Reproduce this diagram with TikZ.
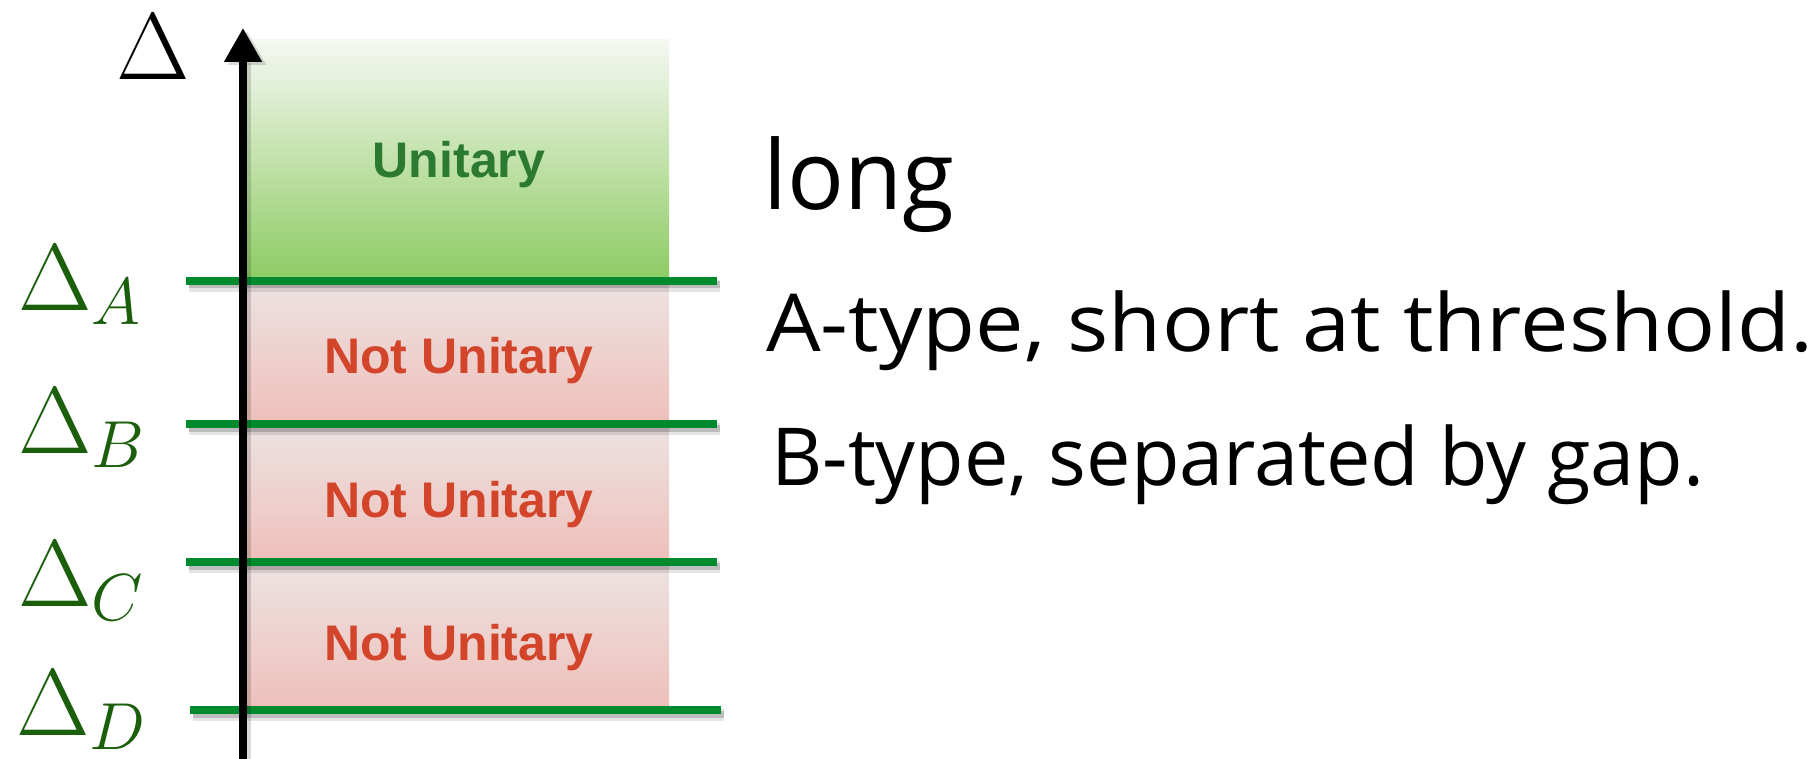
\documentclass[tikz,border=0pt]{standalone}
\usepackage{fix-cm}
\usepackage{fontspec}
\newfontfamily\gillA[FakeStretch=1.08]{Open Sans}
\newfontfamily\gillB[FakeStretch=0.99]{Open Sans}
\newfontfamily\gillL[FakeStretch=0.985]{Open Sans}
\newfontfamily\helv{Liberation Sans}
\usetikzlibrary{arrows.meta}
\definecolor{levelgreen}{HTML}{008A2E}
\definecolor{labgreen}{HTML}{1B5E0C}
\definecolor{unigreen}{HTML}{2B7A30}
\definecolor{notred}{HTML}{D2452A}
\definecolor{gtop}{HTML}{F5F8F2}
\definecolor{gbot}{HTML}{8DCB62}
\definecolor{ptop}{HTML}{EDE3E3}
\definecolor{pbot}{HTML}{EEBFB9}
\tikzset{
  level/.style={line width=8pt, levelgreen},
  lshadow/.style={line width=12pt, black, opacity=0.10, transform canvas={xshift=3pt,yshift=-5pt}},
  lshadowb/.style={line width=7pt, black, opacity=0.18, transform canvas={xshift=3pt,yshift=-4pt}},
  dlabel/.style={inner sep=0pt, anchor=base west, labgreen, font=\fontsize{95}{95}\selectfont},
  region/.style={inner sep=0pt, anchor=base, font=\helv\bfseries\fontsize{50}{50}\selectfont},
  rtext/.style={inner sep=0pt, anchor=base west},
}
\begin{document}
\begin{tikzpicture}[x=1pt, y=-1pt]
\useasboundingbox (0,0) rectangle (1815,759);
% regions
\shade[top color=gtop, bottom color=gbot] (245,40) rectangle (669,281);
\shade[top color=ptop, bottom color=pbot] (245,281) rectangle (669,424);
\shade[top color=ptop, bottom color=pbot] (245,424) rectangle (669,562);
\shade[top color=ptop, bottom color=pbot] (245,562) rectangle (669,710);
% level endpoints
\coordinate (A1) at (186,281); \coordinate (A2) at (717,281);
\coordinate (B1) at (186,424); \coordinate (B2) at (717,424);
\coordinate (C1) at (186,562); \coordinate (C2) at (717,562);
\coordinate (D1) at (190,710); \coordinate (D2) at (721,710);
\foreach \p in {A,B,C,D}{
  \draw[lshadow] (\p1) -- (\p2);
  \draw[lshadowb] (\p1) -- (\p2);
  \draw[level] (\p1) -- (\p2);
}
% axis
\coordinate (ax0) at (243,759);
\coordinate (ax1) at (243,28);
\draw[line width=8pt, black, opacity=0.15, transform canvas={xshift=4pt,yshift=-3pt}, -{Triangle[length=34pt,width=36pt]}] (ax0) -- (ax1);
\draw[line width=8pt, black, -{Triangle[length=34pt,width=36pt]}] (ax0) -- (ax1);
% labels
\node[dlabel, black] (dtop) at (116,80) {$\Delta$};
\node[dlabel] (lA) at (18,310) {$\Delta_A$};
\node[dlabel] (lB) at (18,453) {$\Delta_B$};
\node[dlabel] (lC) at (18,606) {$\Delta_C$};
\node[dlabel] (lD) at (16,735) {$\Delta_D$};
% region texts
\node[region, unigreen] (u) at (459,178) {Unitary};
\node[region, notred] (n1) at (459,373) {Not Unitary};
\node[region, notred] (n2) at (459,517) {Not Unitary};
\node[region, notred] (n3) at (459,660) {Not Unitary};
% right texts
\node[rtext, font=\gillL\fontsize{96}{96}\selectfont] (long) at (763,210) {long};
\node[rtext, font=\gillA\fontsize{80}{80}\selectfont] (at) at (766,352) {A-type, short at threshold.};
\node[rtext, font=\gillB\fontsize{80}{80}\selectfont] (bt) at (771,485) {B-type, separated by gap.};
\end{tikzpicture}
\end{document}
